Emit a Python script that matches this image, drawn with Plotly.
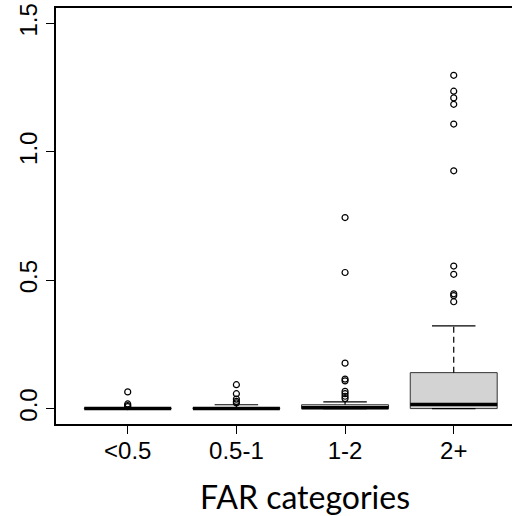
import plotly.graph_objects as go

categories = ["<0.5", "0.5-1", "1-2", "2+"]
q1 = [0.0, 0.0, 0.0, 0.0]
median = [0.0, 0.0, 0.003, 0.016]
q3 = [0.002, 0.003, 0.015, 0.14]
lower_whisker = [0.0, 0.0, 0.0, 0.0]
upper_whisker = [0.004, 0.015, 0.026, 0.322]
outliers = [
    [0.065, 0.018, 0.012, 0.008],
    [0.093, 0.058, 0.037, 0.028, 0.022],
    [0.744, 0.53, 0.177, 0.115, 0.108, 0.067, 0.058, 0.048, 0.039],
    [1.298, 1.236, 1.21, 1.185, 1.108, 0.926, 0.555, 0.523, 0.447, 0.44, 0.416],
]
y_ticks = [0.0, 0.5, 1.0, 1.5]
x_title = "FAR categories"

BOX_W = 0.8
CAP_HALF = 0.2
pos = list(range(1, len(categories) + 1))

fig = go.Figure()

for i, p in enumerate(pos):
    fig.add_trace(go.Box(
        x=[p], q1=[q1[i]], median=[median[i]], q3=[q3[i]],
        lowerfence=[q1[i]], upperfence=[q3[i]],
        width=BOX_W, fillcolor="#D3D3D3",
        line=dict(color="#333333", width=1),
        boxpoints=False, whiskerwidth=0, showlegend=False, hoverinfo="skip",
    ))
    fig.add_trace(go.Scatter(
        x=[p - BOX_W / 2, p + BOX_W / 2], y=[median[i], median[i]],
        mode="lines", line=dict(color="black", width=3.5),
        showlegend=False, hoverinfo="skip",
    ))
    fig.add_trace(go.Scatter(
        x=[p, p, None, p, p], y=[q3[i], upper_whisker[i], None, q1[i], lower_whisker[i]],
        mode="lines", line=dict(color="black", width=1.2, dash="6px,4px"),
        showlegend=False, hoverinfo="skip",
    ))
    fig.add_trace(go.Scatter(
        x=[p - CAP_HALF, p + CAP_HALF, None, p - CAP_HALF, p + CAP_HALF],
        y=[upper_whisker[i], upper_whisker[i], None, lower_whisker[i], lower_whisker[i]],
        mode="lines", line=dict(color="black", width=1.2),
        showlegend=False, hoverinfo="skip",
    ))
    fig.add_trace(go.Scatter(
        x=[p] * len(outliers[i]), y=outliers[i], mode="markers",
        marker=dict(symbol="circle-open", size=6, color="black", line=dict(width=1.2)),
        showlegend=False, hoverinfo="skip",
    ))

fig.update_layout(
    width=512, height=516,
    margin=dict(l=56, r=0, t=8, b=92),
    plot_bgcolor="white", paper_bgcolor="white",
    font=dict(family="Liberation Sans, Arial, sans-serif", color="black"),
    xaxis=dict(
        range=[0.34, 0.34 + 456 / 108.67],
        tickmode="array", tickvals=pos, ticktext=categories,
        ticks="outside", ticklen=8, tickcolor="black", tickwidth=1,
        showline=True, linecolor="black", linewidth=1.5, mirror=True,
        showgrid=False, zeroline=False,
        tickfont=dict(size=24, family="Liberation Sans, Arial, sans-serif"),
        ticklabelstandoff=-4,
    ),
    yaxis=dict(
        range=[-0.06, 1.56],
        tickmode="array", tickvals=y_ticks,
        ticktext=[f"{v:.1f}" for v in y_ticks],
        ticks="outside", ticklen=8, tickcolor="black", tickwidth=1,
        showline=True, linecolor="black", linewidth=1.5,
        showgrid=False, zeroline=False, tickangle=-90,
        tickfont=dict(size=24, family="Liberation Sans, Arial, sans-serif"),
        ticklabelstandoff=0,
    ),
    annotations=[dict(
        text=x_title, xref="paper", yref="paper", x=0.545, y=-0.122,
        xanchor="center", yanchor="top", showarrow=False,
        font=dict(size=32, family="Lato, Open Sans, sans-serif", color="black"),
    )],
)

fig.write_html("out.html")
